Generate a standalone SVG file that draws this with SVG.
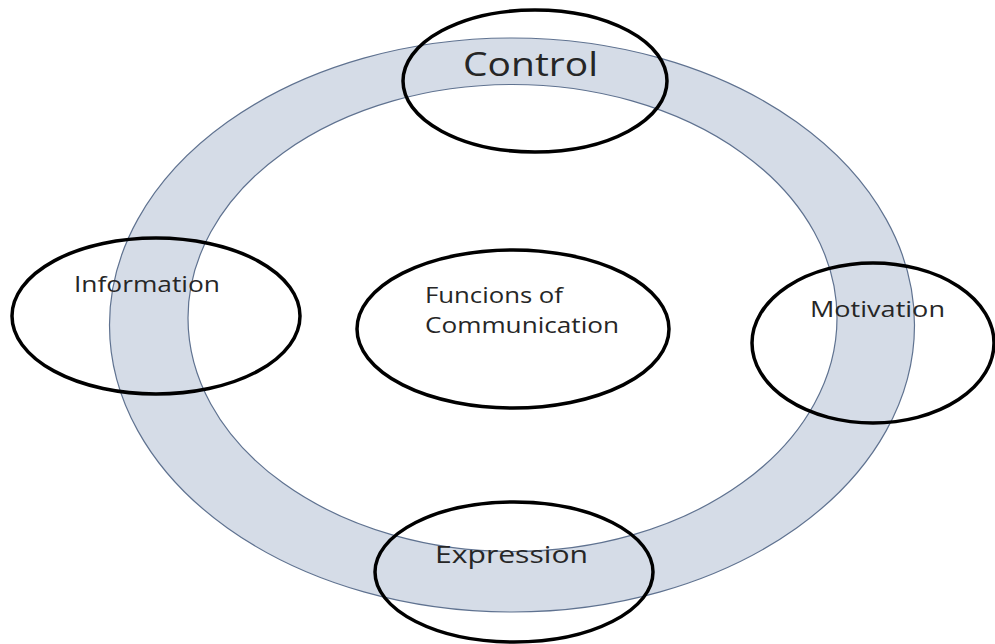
<svg xmlns="http://www.w3.org/2000/svg" width="995" height="644" viewBox="0 0 995 644">
<style>
.node{fill:none;stroke:#000;stroke-width:3.5}
.lbl{font-family:"Open Sans","Noto Sans",sans-serif;fill:#262626}
</style>
<rect width="995" height="644" fill="#fff"/>
<g id="ring">
<path d="M109.5,325 a402.5,287 0 1,0 805,0 a402.5,287 0 1,0 -805,0 Z M188,318 a324.5,233.5 0 1,0 649,0 a324.5,233.5 0 1,0 -649,0 Z" fill="#d5dce7" fill-rule="evenodd" stroke="#5f7290" stroke-width="1.2"/>
</g>
<g id="center">
<ellipse class="node" cx="513" cy="329" rx="156" ry="79"/>
<text class="lbl" x="425" y="303" font-size="22" textLength="138" lengthAdjust="spacingAndGlyphs">Funcions of</text>
<text class="lbl" x="425" y="333" font-size="22" textLength="194" lengthAdjust="spacingAndGlyphs">Communication</text>
</g>
<g id="control">
<ellipse class="node" cx="535" cy="81" rx="132" ry="71"/>
<text class="lbl" x="463" y="76" font-size="33" fill="#1a1a1a" textLength="135" lengthAdjust="spacingAndGlyphs">Control</text>
</g>
<g id="information">
<ellipse class="node" cx="156" cy="316" rx="144" ry="78"/>
<text class="lbl" x="74" y="292" font-size="21" textLength="146" lengthAdjust="spacingAndGlyphs">Information</text>
</g>
<g id="motivation">
<ellipse class="node" cx="873" cy="343" rx="121" ry="80"/>
<text class="lbl" x="810" y="317" font-size="21" textLength="135" lengthAdjust="spacingAndGlyphs">Motivation</text>
</g>
<g id="expression">
<ellipse class="node" cx="514" cy="572" rx="139" ry="70"/>
<text class="lbl" x="435" y="563" font-size="24" textLength="153" lengthAdjust="spacingAndGlyphs">Expression</text>
</g>
<g id="connectors"></g>
</svg>
